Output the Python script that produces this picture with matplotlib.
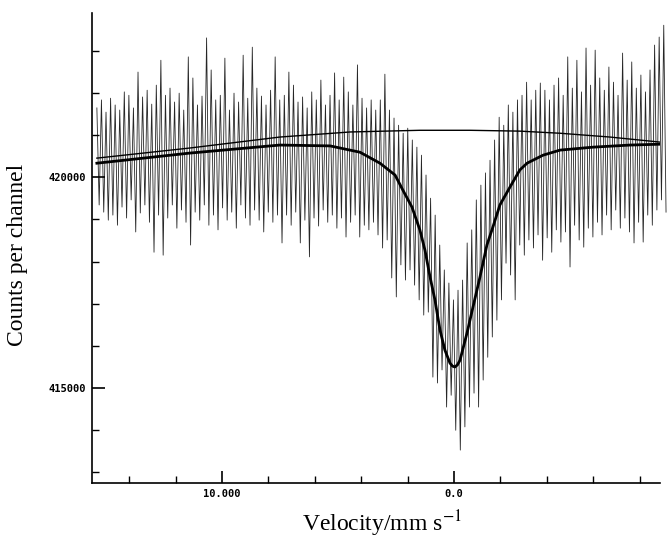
import numpy as np
import matplotlib
matplotlib.use('Agg')
import matplotlib.pyplot as plt

# channel velocity range (mm/s), first and last channel
v_first, v_last = 15.39, -9.14

# counts: top and bottom of each zig-zag stroke
counts_hi = [421640, 421830, 421540, 421870, 421710, 421590, 422020, 421940, 421640, 422490,
             421900, 422060, 421730, 422180, 422770, 421940, 422110, 421780, 421990, 421590,
             422850, 422350, 421710, 421920, 423300, 422540, 421830, 421940, 422820, 421590,
             421990, 421780, 422890, 421870, 423080, 422110, 421920, 421710, 422060, 422850,
             421830, 421940, 422490, 422180, 421780, 421900, 421640, 422020, 421830, 422300,
             421710, 421940, 422470, 421830, 422370, 422020, 421710, 422660, 421870, 421640,
             421830, 421590, 421830, 422440, 421590, 421400, 421230, 421040, 421160, 420880,
             420710, 420520, 420050, 419500, 419100, 418390, 417800, 417490, 417090, 417320,
             417560, 418440, 418750, 419460, 419810, 420100, 420400, 420880, 421420, 421230,
             421710, 421540, 421830, 421940, 422250, 421830, 422060, 422230, 422060, 421830,
             422180, 422350, 421940, 422850, 422110, 422770, 422020, 423060, 422180, 423010,
             422350, 422060, 422610, 422250, 421940, 422940, 422300, 422730, 422110, 422420,
             422020, 422540, 423130, 423320, 423600]
counts_lo = [419340, 419170, 418980, 419100, 418860, 419290, 419030, 419460, 418700, 419150,
             419340, 418930, 418220, 419100, 418150, 419030, 419340, 418790, 419220, 418930,
             418390, 419170, 418980, 419340, 418860, 419100, 418750, 419270, 418980, 419170,
             418790, 419340, 419030, 418860, 419220, 418980, 418700, 419170, 418930, 419100,
             418440, 419100, 418860, 419170, 418440, 418980, 418110, 419030, 418840, 419220,
             418930, 419100, 418790, 419030, 418580, 418930, 419100, 418580, 418860, 418750,
             418930, 418630, 418320, 418510, 417610, 417160, 417920, 417560, 417800, 417440,
             417090, 416730, 416800, 415260, 415120, 415430, 414550, 414830, 414000, 413530,
             414080, 414550, 414880, 414550, 415190, 415730, 416210, 416610, 417090, 417960,
             417680, 417090, 418390, 418150, 418510, 418320, 418630, 418030, 418560, 418220,
             418750, 418460, 418700, 417870, 418860, 418510, 418340, 418790, 418580, 418930,
             418630, 419100, 418750, 419220, 418790, 419030, 418700, 418440, 418930, 418460,
             419100, 418860, 419220, 419460, 419170]

# baseline (thin line)
base_v = [15.39, 11.38, 7.50, 4.48, 1.47, -0.69, -2.84, -4.57, -6.72, -8.88]
base_c = [420450, 420690, 420950, 421070, 421110, 421110, 421090, 421040, 420950, 420830]

# fitted curve (thick line)
fit_v = [15.39, 11.38, 7.50, 5.34, 4.05, 3.19, 2.54, 2.20, 1.81, 1.47, 1.25, 1.03, 0.82, 0.60,
         0.39, 0.17, 0.06, -0.04, -0.15, -0.26, -0.56, -0.82, -1.12, -1.42, -1.68, -1.98,
         -2.41, -2.84, -3.15, -3.84, -4.57, -5.99, -7.59, -8.88]
fit_c = [420330, 420570, 420760, 420740, 420590, 420330, 420050, 419690, 419290, 418750,
         418270, 417630, 417090, 416370, 415900, 415590, 415520, 415500, 415550, 415660,
         416300, 416920, 417630, 418390, 418820, 419340, 419760, 420170, 420330, 420520,
         420640, 420710, 420760, 420780]

counts = np.empty(2 * len(counts_hi))
counts[0::2] = counts_hi
counts[1::2] = counts_lo
vel = np.linspace(v_first, v_last, len(counts))

plt.rcParams['mathtext.fontset'] = 'stix'

fig = plt.figure(figsize=(6.69, 5.40), dpi=100)
ax = fig.add_axes([92/669, 57/540, 568/669, 470/540])

ax.plot(vel, counts, color='black', lw=0.6, alpha=0.85, clip_on=False)
ax.plot(base_v, base_c, color='black', lw=1.0)
ax.plot(fit_v, fit_c, color='black', lw=2.0)

ax.set_xlim(15.6, -8.88)
ax.set_ylim(412750, 423890)

for s in ['top', 'right']:
    ax.spines[s].set_visible(False)
for s in ['left', 'bottom']:
    ax.spines[s].set_linewidth(1.2)

ax.set_xticks([10, 0])
ax.set_xticklabels(['10.000', '0.0'])
ax.set_xticks([14, 12, 8, 6, 4, 2, -2, -4, -6, -8], minor=True)
ax.set_yticks([420000, 415000])
ax.set_yticklabels(['420000', '415000'])
ax.set_yticks([413000, 414000, 416000, 417000, 418000, 419000, 421000, 422000, 423000], minor=True)

ax.tick_params(axis='both', which='major', direction='in', length=9, width=1.2,
               labelsize=7.5, pad=4)
ax.tick_params(axis='both', which='minor', direction='in', length=5, width=1.0)
for lab in ax.get_xticklabels() + ax.get_yticklabels():
    lab.set_family('DejaVu Sans Mono')
    lab.set_weight('bold')

ax.set_xlabel('Velocity/mm s$^{-1}$', family='Liberation Serif', fontsize=17)
ax.xaxis.set_label_coords(0.51, -0.055)
ax.set_ylabel('Counts per channel', family='Liberation Serif', fontsize=17)
ax.yaxis.set_label_coords(-0.112, 0.485)

plt.savefig('out.png', dpi=100)
